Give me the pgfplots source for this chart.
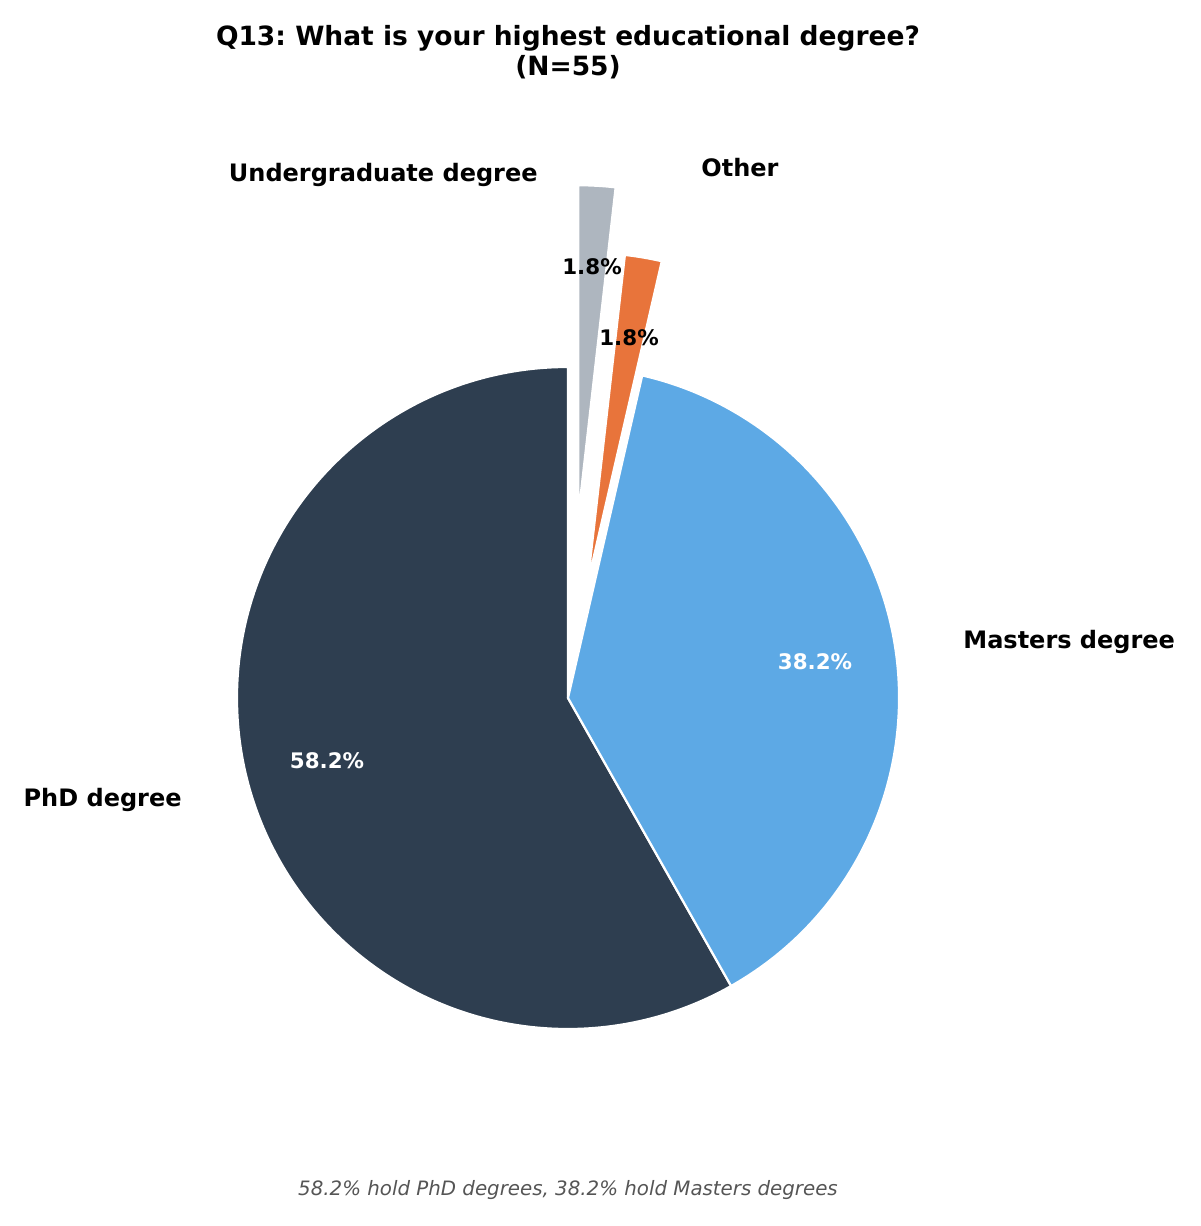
\documentclass[border=0pt]{standalone}
\usepackage{pgfplots}
\pgfplotsset{compat=1.18}
\usepackage{fontspec}
\setmainfont{DejaVu Sans}
\usetikzlibrary{calc}
\frenchspacing
\definecolor{phd}{HTML}{2E3E50}
\definecolor{mas}{HTML}{5DA9E5}
\definecolor{oth}{HTML}{E8743B}
\definecolor{und}{HTML}{AEB6BF}
\definecolor{foot}{HTML}{555555}
% slice: #1 cumulative start (%), #2 value (%), #3 explode (fraction), #4 colour
\newcommand\pieslice[4]{%
  \fill[#4, draw=white, line width=1.1pt]
    ($(axis cs:568,528)+({90+3.6*(#1+#2/2)}:{#3*165.5pt})$)
    -- ++({90+3.6*#1}:165.5pt)
    arc[start angle={90+3.6*#1}, end angle={90+3.6*(#1+#2)}, radius=165.5pt]
    -- cycle;}
\begin{document}
\begin{tikzpicture}
\begin{axis}[hide axis, scale only axis, width=600pt, height=613pt,
  xmin=0, xmax=1200, ymin=0, ymax=1226, clip=false]
\path (axis cs:0,0) rectangle (axis cs:1200,1226);
% values: PhD 58.2, Masters 38.2, Other 1.8, Undergraduate 1.8
\pieslice{0}{58.2}{0}{phd}
\pieslice{58.2}{38.2}{0}{mas}
\pieslice{96.4}{1.8}{0.35}{oth}
\pieslice{98.2}{1.8}{0.55}{und}
% percentages
\node[white, font=\bfseries\fontsize{10.7}{12}\selectfont] at (axis cs:327,465) {58.2\%};
\node[white, font=\bfseries\fontsize{10.7}{12}\selectfont] at (axis cs:815,564) {38.2\%};
\node[black, font=\bfseries\fontsize{10.7}{12}\selectfont] at (axis cs:592,959) {1.8\%};
\node[black, font=\bfseries\fontsize{10.7}{12}\selectfont] at (axis cs:629,888) {1.8\%};
% labels
\node[anchor=east, inner sep=0pt, font=\bfseries\fontsize{12.0}{14}\selectfont] at (axis cs:538,1051) {Undergraduate degree};
\node[anchor=west, inner sep=0pt, font=\bfseries\fontsize{12.0}{14}\selectfont] at (axis cs:701,1058) {Other};
\node[anchor=west, inner sep=0pt, font=\bfseries\fontsize{12.0}{14}\selectfont] at (axis cs:963,584) {Masters degree};
\node[anchor=east, inner sep=0pt, font=\bfseries\fontsize{12.0}{14}\selectfont] at (axis cs:182,426) {PhD degree};
% title
\node[align=center, inner sep=0pt, font=\bfseries\fontsize{13.25}{15}\selectfont] at (axis cs:568,1174) {Q13: What is your highest educational degree?\\(N=55)};
% footer
\node[foot, inner sep=0pt, font=\itshape\fontsize{9.9}{12}\selectfont] at (axis cs:568,36) {58.2\% hold PhD degrees, 38.2\% hold Masters degrees};
\end{axis}
\end{tikzpicture}
\end{document}
